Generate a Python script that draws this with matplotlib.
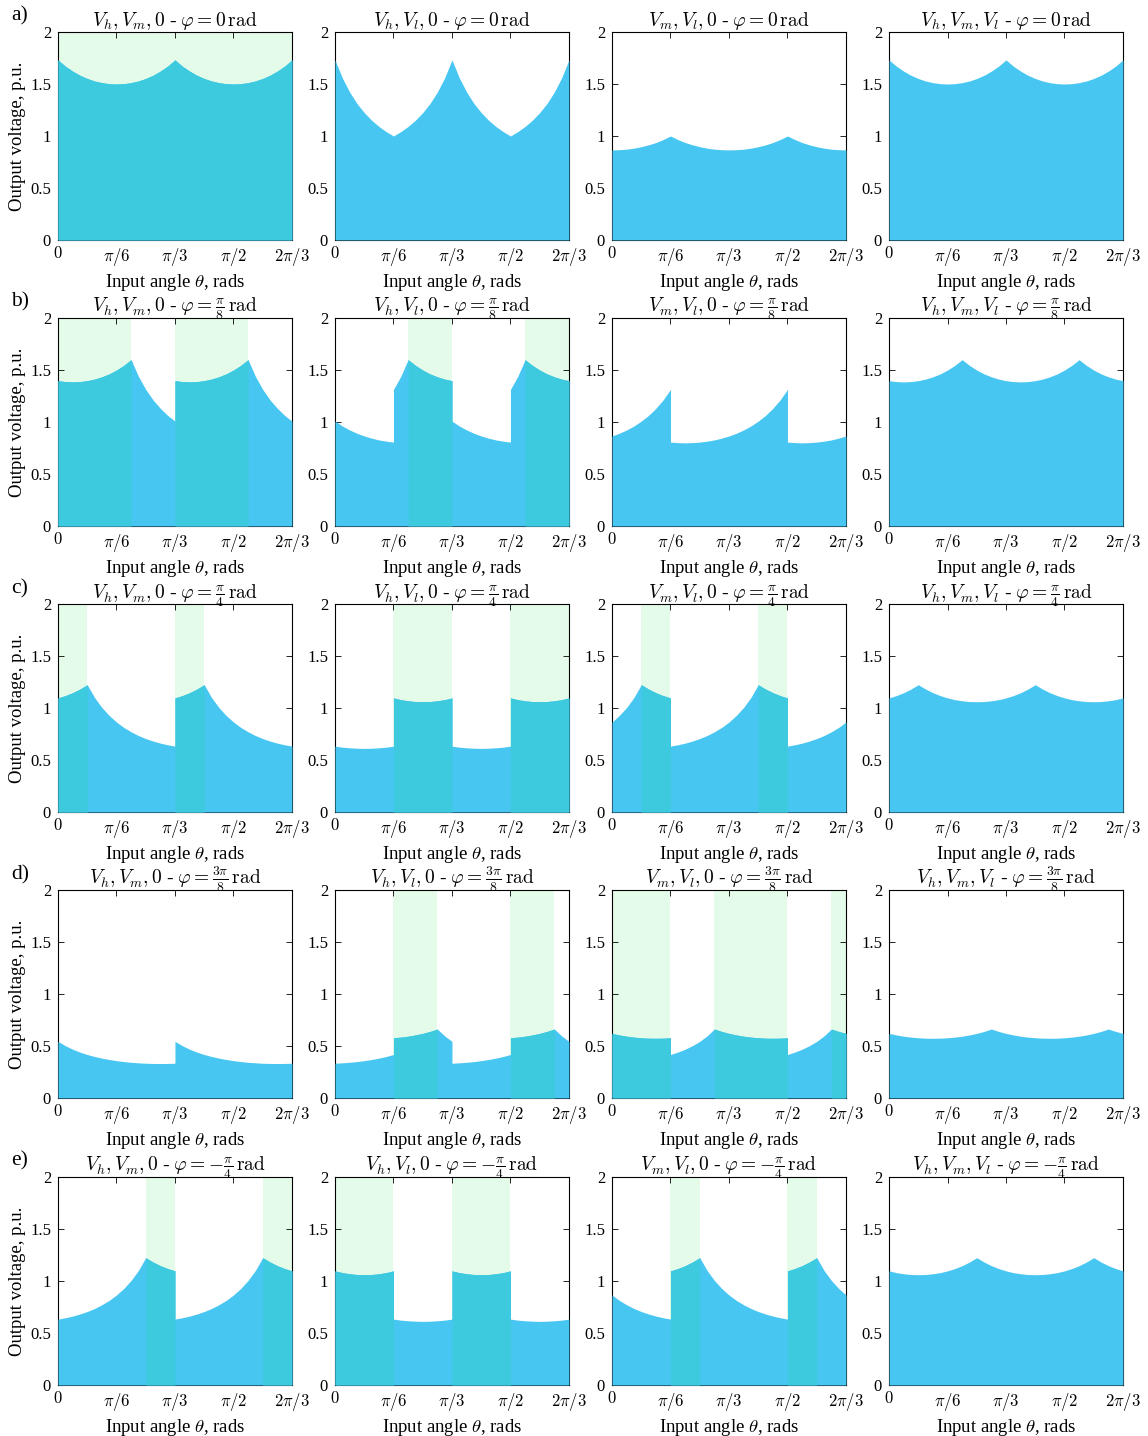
import numpy as np
import matplotlib
matplotlib.use("Agg")
import matplotlib.pyplot as plt

plt.rcParams["font.family"] = ["Liberation Serif", "DejaVu Serif"]
plt.rcParams["mathtext.fontset"] = "cm"

# Input angle samples, degrees (0 .. 2*pi/3)
theta_deg = [0, 3.75, 7.5, 11.25, 15, 18.75, 22.5, 26.25, 30, 33.75, 37.5, 41.25,
             45, 48.75, 52.5, 56.25, 60, 63.75, 67.5, 71.25, 75, 78.75, 82.5, 86.25,
             90, 93.75, 97.5, 101.25, 105, 108.75, 112.5, 116.25, 120]

# ---- row a: phi = 0 ----
a1_v = [1.732, 1.672, 1.624, 1.584, 1.553, 1.529, 1.513, 1.503, 1.500, 1.503, 1.513, 1.529, 1.553, 1.584, 1.624, 1.672, 1.732,
        1.672, 1.624, 1.584, 1.553, 1.529, 1.513, 1.503, 1.500, 1.503, 1.513, 1.529, 1.553, 1.584, 1.624, 1.672, 1.732]
a2_v = [1.732, 1.559, 1.423, 1.313, 1.225, 1.152, 1.092, 1.042, 1.000, 1.042, 1.092, 1.152, 1.225, 1.313, 1.423, 1.559, 1.732,
        1.559, 1.423, 1.313, 1.225, 1.152, 1.092, 1.042, 1.000, 1.042, 1.092, 1.152, 1.225, 1.313, 1.423, 1.559, 1.732]
a3_v = [0.866, 0.868, 0.873, 0.883, 0.897, 0.915, 0.937, 0.966, 1.000, 0.966, 0.937, 0.915, 0.897, 0.883, 0.873, 0.868, 0.866,
        0.868, 0.873, 0.883, 0.897, 0.915, 0.937, 0.966, 1.000, 0.966, 0.937, 0.915, 0.897, 0.883, 0.873, 0.868, 0.866]
a4_v = [1.732, 1.672, 1.624, 1.584, 1.553, 1.529, 1.513, 1.503, 1.500, 1.503, 1.513, 1.529, 1.553, 1.584, 1.624, 1.672, 1.732,
        1.672, 1.624, 1.584, 1.553, 1.529, 1.513, 1.503, 1.500, 1.503, 1.513, 1.529, 1.553, 1.584, 1.624, 1.672, 1.732]

# ---- row b: phi = pi/8 ----
b1_v = [1.398, 1.389, 1.386, 1.389, 1.398, 1.413, 1.435, 1.463, 1.500, 1.545, 1.600, 1.440, 1.314, 1.213, 1.132, 1.064, 1.398,
        1.389, 1.386, 1.389, 1.398, 1.413, 1.435, 1.463, 1.500, 1.545, 1.600, 1.440, 1.314, 1.213, 1.132, 1.064, 1.009]
b2_v = [1.009, 0.962, 0.924, 0.892, 0.866, 0.845, 0.828, 0.816, 1.314, 1.440, 1.600, 1.545, 1.500, 1.463, 1.435, 1.413, 1.009,
        0.962, 0.924, 0.892, 0.866, 0.845, 0.828, 0.816, 1.314, 1.440, 1.600, 1.545, 1.500, 1.463, 1.435, 1.413, 1.398]
b3_v = [0.866, 0.892, 0.924, 0.962, 1.009, 1.064, 1.132, 1.213, 0.807, 0.802, 0.800, 0.802, 0.807, 0.816, 0.828, 0.845, 0.866,
        0.892, 0.924, 0.962, 1.009, 1.064, 1.132, 1.213, 0.807, 0.802, 0.800, 0.802, 0.807, 0.816, 0.828, 0.845, 0.866]
b4_v = [1.398, 1.389, 1.386, 1.389, 1.398, 1.413, 1.435, 1.463, 1.500, 1.545, 1.600, 1.545, 1.500, 1.463, 1.435, 1.413, 1.398,
        1.389, 1.386, 1.389, 1.398, 1.413, 1.435, 1.463, 1.500, 1.545, 1.600, 1.545, 1.500, 1.463, 1.435, 1.413, 1.398]

# ---- row c: phi = pi/4 ----
c1_v = [1.098, 1.120, 1.148, 1.183, 1.225, 1.102, 1.006, 0.929, 0.866, 0.814, 0.772, 0.736, 0.707, 0.683, 0.663, 0.647, 1.098,
        1.120, 1.148, 1.183, 1.225, 1.102, 1.006, 0.929, 0.866, 0.814, 0.772, 0.736, 0.707, 0.683, 0.663, 0.647, 0.634]
c2_v = [0.634, 0.624, 0.618, 0.614, 0.612, 0.614, 0.618, 0.624, 1.098, 1.081, 1.070, 1.063, 1.061, 1.063, 1.070, 1.081, 0.634,
        0.624, 0.618, 0.614, 0.612, 0.614, 0.618, 0.624, 1.098, 1.081, 1.070, 1.063, 1.061, 1.063, 1.070, 1.081, 1.098]
c3_v = [0.866, 0.929, 1.006, 1.102, 1.225, 1.183, 1.148, 1.120, 0.634, 0.647, 0.663, 0.683, 0.707, 0.736, 0.772, 0.814, 0.866,
        0.929, 1.006, 1.102, 1.225, 1.183, 1.148, 1.120, 0.634, 0.647, 0.663, 0.683, 0.707, 0.736, 0.772, 0.814, 0.866]
c4_v = [1.098, 1.120, 1.148, 1.183, 1.225, 1.183, 1.148, 1.120, 1.098, 1.081, 1.070, 1.063, 1.061, 1.063, 1.070, 1.081, 1.098,
        1.120, 1.148, 1.183, 1.225, 1.183, 1.148, 1.120, 1.098, 1.081, 1.070, 1.063, 1.061, 1.063, 1.070, 1.081, 1.098]

# ---- row d: phi = 3*pi/8 ----
d1_v = [0.544, 0.503, 0.469, 0.441, 0.418, 0.399, 0.383, 0.370, 0.359, 0.350, 0.343, 0.338, 0.334, 0.332, 0.331, 0.332, 0.544,
        0.503, 0.469, 0.441, 0.418, 0.399, 0.383, 0.370, 0.359, 0.350, 0.343, 0.338, 0.334, 0.332, 0.331, 0.332, 0.334]
d2_v = [0.334, 0.338, 0.343, 0.350, 0.359, 0.370, 0.383, 0.399, 0.579, 0.585, 0.594, 0.606, 0.621, 0.640, 0.663, 0.597, 0.334,
        0.338, 0.343, 0.350, 0.359, 0.370, 0.383, 0.399, 0.579, 0.585, 0.594, 0.606, 0.621, 0.640, 0.663, 0.597, 0.544]
d3_v = [0.621, 0.606, 0.594, 0.585, 0.579, 0.575, 0.574, 0.575, 0.418, 0.441, 0.469, 0.503, 0.544, 0.597, 0.663, 0.640, 0.621,
        0.606, 0.594, 0.585, 0.579, 0.575, 0.574, 0.575, 0.418, 0.441, 0.469, 0.503, 0.544, 0.597, 0.663, 0.640, 0.621]
d4_v = [0.621, 0.606, 0.594, 0.585, 0.579, 0.575, 0.574, 0.575, 0.579, 0.585, 0.594, 0.606, 0.621, 0.640, 0.663, 0.640, 0.621,
        0.606, 0.594, 0.585, 0.579, 0.575, 0.574, 0.575, 0.579, 0.585, 0.594, 0.606, 0.621, 0.640, 0.663, 0.640, 0.621]

# ---- row e: phi = -pi/4 ----
e1_v = [0.634, 0.647, 0.663, 0.683, 0.707, 0.736, 0.772, 0.814, 0.866, 0.929, 1.006, 1.102, 1.225, 1.183, 1.148, 1.120, 0.634,
        0.647, 0.663, 0.683, 0.707, 0.736, 0.772, 0.814, 0.866, 0.929, 1.006, 1.102, 1.225, 1.183, 1.148, 1.120, 1.098]
e2_v = [1.098, 1.081, 1.070, 1.063, 1.061, 1.063, 1.070, 1.081, 0.634, 0.624, 0.618, 0.614, 0.612, 0.614, 0.618, 0.624, 1.098,
        1.081, 1.070, 1.063, 1.061, 1.063, 1.070, 1.081, 0.634, 0.624, 0.618, 0.614, 0.612, 0.614, 0.618, 0.624, 0.634]
e3_v = [0.866, 0.814, 0.772, 0.736, 0.707, 0.683, 0.663, 0.647, 1.098, 1.120, 1.148, 1.183, 1.225, 1.102, 1.006, 0.929, 0.866,
        0.814, 0.772, 0.736, 0.707, 0.683, 0.663, 0.647, 1.098, 1.120, 1.148, 1.183, 1.225, 1.102, 1.006, 0.929, 0.866]
e4_v = [1.098, 1.081, 1.070, 1.063, 1.061, 1.063, 1.070, 1.081, 1.098, 1.120, 1.148, 1.183, 1.225, 1.183, 1.148, 1.120, 1.098,
        1.081, 1.070, 1.063, 1.061, 1.063, 1.070, 1.081, 1.098, 1.120, 1.148, 1.183, 1.225, 1.183, 1.148, 1.120, 1.098]

# Step discontinuities: {angle in degrees: value just before the step}
a1_jump, a2_jump, a3_jump, a4_jump = {}, {}, {}, {}
b1_jump = {60: 1.009}
b2_jump = {30: 0.807, 60: 1.398, 90: 0.807}
b3_jump = {30: 1.314, 90: 1.314}
b4_jump = {}
c1_jump = {60: 0.634}
c2_jump = {30: 0.634, 60: 1.098, 90: 0.634}
c3_jump = {30: 1.098, 90: 1.098}
c4_jump = {}
d1_jump = {60: 0.334}
d2_jump = {30: 0.418, 60: 0.544, 90: 0.418}
d3_jump = {30: 0.579, 90: 0.579}
d4_jump = {}
e1_jump = {60: 1.098}
e2_jump = {30: 1.098, 60: 0.634, 90: 1.098}
e3_jump = {30: 0.634, 90: 0.634}
e4_jump = {}

# Angle ranges (degrees) where the reduced vector set reaches the full-set voltage
a1_green = [(0, 120)]
a2_green, a3_green, a4_green = [], [], []
b1_green = [(0, 37.5), (60, 97.5)]
b2_green = [(37.5, 60), (97.5, 120)]
b3_green, b4_green = [], []
c1_green = [(0, 15), (60, 75)]
c2_green = [(30, 60), (90, 120)]
c3_green = [(15, 30), (75, 90)]
c4_green = []
d1_green = []
d2_green = [(30, 52.5), (90, 112.5)]
d3_green = [(0, 30), (52.5, 90), (112.5, 120)]
d4_green = []
e1_green = [(45, 60), (105, 120)]
e2_green = [(0, 30), (60, 90)]
e3_green = [(30, 45), (90, 105)]
e4_green = []

row_letters = ["a)", "b)", "c)", "d)", "e)"]
phi_texts = [r"0", r"\frac{\pi}{8}", r"\frac{\pi}{4}", r"\frac{3\pi}{8}", r"-\frac{\pi}{4}"]
set_texts = [r"V_h, V_m, 0", r"V_h, V_l, 0", r"V_m, V_l, 0", r"V_h, V_m, V_l"]

panels = [
    [(a1_v, a1_jump, a1_green), (a2_v, a2_jump, a2_green), (a3_v, a3_jump, a3_green), (a4_v, a4_jump, a4_green)],
    [(b1_v, b1_jump, b1_green), (b2_v, b2_jump, b2_green), (b3_v, b3_jump, b3_green), (b4_v, b4_jump, b4_green)],
    [(c1_v, c1_jump, c1_green), (c2_v, c2_jump, c2_green), (c3_v, c3_jump, c3_green), (c4_v, c4_jump, c4_green)],
    [(d1_v, d1_jump, d1_green), (d2_v, d2_jump, d2_green), (d3_v, d3_jump, d3_green), (d4_v, d4_jump, d4_green)],
    [(e1_v, e1_jump, e1_green), (e2_v, e2_jump, e2_green), (e3_v, e3_jump, e3_green), (e4_v, e4_jump, e4_green)],
]

BLUE = "#48C6F2"
GREEN = "#E3FBE8"
TEAL = "#3DCADE"


def build_series(values, jumps):
    xs, ys = [], []
    for t, v in zip(theta_deg, values):
        if t in jumps:
            xs.append(t)
            ys.append(jumps[t])
        xs.append(t)
        ys.append(v)
    return np.deg2rad(np.array(xs, dtype=float)), np.array(ys)


fig = plt.figure(figsize=(11.48, 14.36), dpi=100)
lefts = [0.0505, 0.2918, 0.5331, 0.7744]
bottoms = [0.8329, 0.6337, 0.4345, 0.2354, 0.0355]
width, height = 0.2038, 0.1448

xticks = [0, np.pi / 6, np.pi / 3, np.pi / 2, 2 * np.pi / 3]
xticklabels = [r"$0$", r"$\pi/6$", r"$\pi/3$", r"$\pi/2$", r"$2\pi/3$"]
yticks = [0, 0.5, 1, 1.5, 2]
yticklabels = ["0", "0.5", "1", "1.5", "2"]

for r in range(5):
    for c in range(4):
        values, jumps, greens = panels[r][c]
        ax = fig.add_axes([lefts[c], bottoms[r], width, height])
        x, y = build_series(values, jumps)

        for s, e in greens:
            ax.axvspan(np.deg2rad(s), np.deg2rad(e), color=GREEN, lw=0, zorder=1)
        ax.fill_between(x, 0, y, color=BLUE, lw=0, zorder=3)
        for s, e in greens:
            lo, hi = np.deg2rad(s) - 1e-9, np.deg2rad(e) + 1e-9
            m = (x >= lo) & (x <= hi)
            ax.fill_between(x[m], 0, y[m], color=TEAL, lw=0, zorder=3.1)

        ax.set_xlim(0, 2 * np.pi / 3)
        ax.set_ylim(0, 2)
        ax.set_xticks(xticks)
        ax.set_xticklabels(xticklabels)
        ax.set_yticks(yticks)
        ax.set_yticklabels(yticklabels)
        ax.tick_params(direction="in", top=True, right=True, length=4, width=0.6,
                       labelsize=12)
        ax.tick_params(axis="x", pad=4)
        ax.tick_params(axis="y", pad=5)
        for sp in ax.spines.values():
            sp.set_linewidth(0.8)
        ax.set_xlabel(r"Input angle $\theta$, rads", fontsize=13.5, labelpad=3)
        if c == 0:
            ax.set_ylabel("Output voltage, p.u.", fontsize=13.5, labelpad=3)
        ax.set_title(r"$%s$ - $\varphi = %s\,\mathrm{rad}$" % (set_texts[c], phi_texts[r]),
                     fontsize=14, pad=4)

    fig.text(0.0174, 1 - (16 + 286.3 * r) / 1436, row_letters[r], fontsize=15.5,
             ha="center", va="center")

fig.savefig("out.png", dpi=100)
